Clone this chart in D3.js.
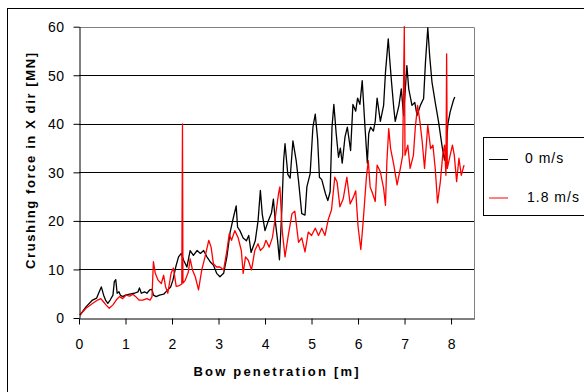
<!DOCTYPE html>
<html>
<head>
<meta charset="utf-8">
<script src="https://cdn.jsdelivr.net/npm/d3@7"></script>
<style>
  html, body { margin: 0; padding: 0; background: #fff; }
  svg { display: block; font-family: "Liberation Sans", Arial, sans-serif; }
</style>
</head>
<body>
<svg id="chart" width="584" height="392"></svg>
<script>
// Axis ticks
const xTicks = [0, 1, 2, 3, 4, 5, 6, 7, 8];
const yTicks = [0, 10, 20, 30, 40, 50, 60];

// Legend labels
const seriesNames = ["0 m/s", "1.8 m/s"];
const seriesColors = ["#000000", "#ff0000"];

// Crushing force [MN] vs bow penetration [m], ship speed 0 m/s
const speed0 = [
  [0.02,0.6],[0.15,2.3],[0.29,3.7],[0.38,4.1],[0.44,5.5],[0.48,6.4],[0.53,4.7],[0.57,3.7],[0.62,3.0],[0.67,3.7],
  [0.73,4.7],[0.76,7.5],[0.79,7.9],[0.82,5.1],[0.86,5.4],[0.89,4.7],[0.94,4.4],[1.0,4.7],[1.09,4.9],[1.19,5.1],
  [1.27,5.4],[1.3,6.2],[1.34,5.1],[1.41,5.4],[1.46,5.1],[1.52,5.8],[1.57,5.9],[1.6,4.7],[1.66,4.4],[1.73,4.7],
  [1.82,4.9],[1.91,5.8],[1.97,6.4],[2.02,7.8],[2.08,10.5],[2.14,12.6],[2.2,13.3],[2.25,11.9],[2.32,10.5],[2.39,13.9],
  [2.46,12.9],[2.54,13.9],[2.61,13.3],[2.68,13.9],[2.75,12.6],[2.82,11.6],[2.89,10.9],[2.96,9.2],[3.03,8.5],[3.11,9.2],
  [3.18,12.6],[3.25,17.7],[3.32,20.7],[3.38,23.1],[3.41,18.7],[3.46,18],[3.53,16.5],[3.6,15.9],[3.65,17],[3.7,13.5],
  [3.79,15.9],[3.85,20],[3.9,26.3],[3.94,21.4],[4.0,18],[4.07,20],[4.14,21.7],[4.18,24.5],[4.22,20],[4.27,16],
  [4.31,12],[4.36,22],[4.4,32.4],[4.43,35.9],[4.49,29.6],[4.54,28.8],[4.6,36.5],[4.67,32.4],[4.72,28.3],[4.79,21.5],
  [4.86,21.2],[4.9,27],[4.97,29.7],[5.03,39.3],[5.08,42],[5.13,37],[5.17,29],[5.22,28.5],[5.3,25.6],[5.35,24.2],
  [5.4,26],[5.44,39.3],[5.48,44],[5.53,38],[5.58,33.1],[5.62,35],[5.66,31.9],[5.72,37.3],[5.77,39.3],[5.84,34.5],
  [5.89,44],[5.95,42.6],[5.99,45.3],[6.04,44],[6.09,48.9],[6.15,39.3],[6.2,31.9],[6.23,38],[6.27,39.3],[6.33,38.5],
  [6.37,40.5],[6.41,45.3],[6.48,40.5],[6.55,43.8],[6.59,50.6],[6.65,57.5],[6.68,53.4],[6.72,48.6],[6.77,43.1],[6.8,40.5],
  [6.88,43.8],[6.93,47.2],[6.98,41.7],[7.05,52],[7.09,47.2],[7.16,43.8],[7.22,44.4],[7.27,41.7],[7.34,43.8],[7.41,45.2],
  [7.45,52.7],[7.5,59.8],[7.54,54],[7.59,48.6],[7.66,44.4],[7.73,40.5],[7.81,35.2],[7.86,32.5],[7.9,35.2],[7.93,39.9],
  [7.98,42.4],[8.05,44.8],[8.08,45.5]
];

// Crushing force [MN] vs bow penetration [m], ship speed 1.8 m/s
const speed18 = [
  [0.02,0.6],[0.15,2.0],[0.29,3.0],[0.4,3.7],[0.47,4.0],[0.52,3.4],[0.58,2.7],[0.65,2.0],[0.73,2.7],[0.8,3.7],
  [0.87,4.4],[0.94,4.0],[1.01,4.7],[1.09,4.5],[1.16,4.9],[1.22,4.4],[1.29,3.7],[1.37,3.7],[1.46,4.0],[1.53,3.7],
  [1.57,4.4],[1.6,11.6],[1.64,9.2],[1.7,7.8],[1.77,7.1],[1.82,8.8],[1.86,6.5],[1.91,5.1],[1.98,9.2],[2.03,10.3],
  [2.09,6.5],[2.14,6.6],[2.21,7.0],[2.225,40],[2.235,7.2],[2.28,7.7],[2.35,9.4],[2.39,12.2],[2.44,9.9],[2.5,8.5],
  [2.57,5.8],[2.64,9.9],[2.71,12.6],[2.79,16],[2.84,14.6],[2.89,11.2],[2.96,10.5],[3.03,10.5],[3.11,9.9],[3.18,13.9],
  [3.23,17.3],[3.28,16],[3.35,18],[3.42,16.6],[3.49,13.9],[3.53,9.2],[3.58,12.6],[3.64,11.9],[3.71,9.9],[3.78,13.9],
  [3.85,15.3],[3.9,13.9],[3.97,14.6],[4.02,16],[4.09,14.6],[4.16,16.6],[4.22,20.6],[4.29,25.6],[4.32,27],[4.37,18],
  [4.43,12.6],[4.5,17],[4.58,21.5],[4.64,22],[4.72,15.6],[4.79,16.5],[4.86,13.6],[4.93,17.7],[5.0,17],[5.08,18.5],
  [5.15,17],[5.22,18.5],[5.29,17],[5.36,20.3],[5.43,22.3],[5.5,29],[5.55,28],[5.61,22.9],[5.68,24.5],[5.76,29],
  [5.83,23.5],[5.9,24.9],[5.95,26.2],[6.0,18.9],[6.06,14.1],[6.11,19.8],[6.18,29],[6.22,32.4],[6.26,27],[6.3,26],
  [6.37,24],[6.41,31.5],[6.48,30.1],[6.55,26.7],[6.59,23.2],[6.62,32.2],[6.66,39],[6.7,34.9],[6.77,31.5],[6.84,27.4],
  [6.91,30.8],[6.96,33.5],[6.995,60],[7.01,33.5],[7.07,35.6],[7.12,30.8],[7.19,33.5],[7.23,39],[7.28,43.8],[7.33,40.5],
  [7.38,36.3],[7.43,30.8],[7.5,39.7],[7.56,34.9],[7.61,35.6],[7.66,30.8],[7.71,23.7],[7.77,28.1],[7.82,33.5],[7.86,35.6],
  [7.89,29.4],[7.905,54.4],[7.92,30.8],[7.98,33.5],[8.03,35.6],[8.07,33.5],[8.12,28.1],[8.17,32.9],[8.22,29.4],[8.28,31.5]
];

const svg = d3.select("#chart");
const plot = { left: 79, right: 474.3, top: 26.7, bottom: 318 };

const x = d3.scaleLinear().domain([0, 8.5]).range([plot.left, plot.right]);
const y = d3.scaleLinear().domain([0, 60]).range([plot.bottom, plot.top]);

// Outer frame
svg.append("rect")
  .attr("x", 7.5).attr("y", 8.5)
  .attr("width", 600).attr("height", 400)
  .attr("fill", "#fff").attr("stroke", "#000").attr("stroke-width", 1);

// Horizontal gridlines
svg.append("g")
  .selectAll("line")
  .data(yTicks.filter(d => d > 0))
  .join("line")
  .attr("x1", plot.left).attr("x2", plot.right)
  .attr("y1", d => Math.round(y(d)) + 0.5).attr("y2", d => Math.round(y(d)) + 0.5)
  .attr("stroke", d => d === 60 ? "#808080" : "#000")
  .attr("stroke-width", 1);

// Right frame of plot area
svg.append("line")
  .attr("x1", Math.round(plot.right) + 0.5).attr("x2", Math.round(plot.right) + 0.5)
  .attr("y1", Math.round(plot.top) + 0.5).attr("y2", Math.round(plot.bottom) + 0.5)
  .attr("stroke", "#808080");

// Series
const line = d3.line().x(d => x(d[0])).y(d => y(d[1]));
[speed0, speed18].forEach((s, i) => {
  svg.append("path")
    .datum(s)
    .attr("d", line)
    .attr("fill", "none")
    .attr("stroke", seriesColors[i])
    .attr("stroke-width", 1.3)
    .attr("stroke-linejoin", "round");
});

// Axes
const xAxis = svg.append("g")
  .attr("transform", `translate(0,${Math.round(plot.bottom) + 0.5})`)
  .call(d3.axisBottom(x).tickValues(xTicks).tickSize(6).tickSizeOuter(0));
xAxis.select(".domain").attr("stroke", "#000");
xAxis.selectAll(".tick line").attr("stroke", "#000");
xAxis.selectAll(".tick text")
  .attr("y", 30).attr("dy", null)
  .attr("font-size", 14).attr("fill", "#000")
  .attr("font-family", "Liberation Sans, Arial, sans-serif");

const yAxis = svg.append("g")
  .attr("transform", `translate(${plot.left + 0.5},0)`)
  .call(d3.axisLeft(y).tickValues(yTicks).tickSize(6).tickSizeOuter(0));
yAxis.select(".domain").attr("stroke", "#000");
yAxis.selectAll(".tick line").attr("stroke", "#000");
yAxis.selectAll(".tick text")
  .attr("x", -15).attr("dy", "0.35em")
  .attr("font-size", 14).attr("fill", "#000")
  .attr("letter-spacing", 0.5)
  .attr("font-family", "Liberation Sans, Arial, sans-serif");

// Axis titles
svg.append("text")
  .attr("x", 276).attr("y", 376)
  .attr("text-anchor", "middle")
  .attr("font-size", 13).attr("font-weight", "bold")
  .attr("textLength", 165).attr("lengthAdjust", "spacing")
  .text("Bow penetration [m]");

svg.append("text")
  .attr("transform", "translate(35,161) rotate(-90)")
  .attr("text-anchor", "middle")
  .attr("font-size", 13).attr("font-weight", "bold")
  .attr("textLength", 216).attr("lengthAdjust", "spacing")
  .text("Crushing force in X dir [MN]");

// Legend
const legend = svg.append("g");
legend.append("rect")
  .attr("x", 483.5).attr("y", 137.5)
  .attr("width", 130).attr("height", 78)
  .attr("fill", "#fff").attr("stroke", "#000");
const rows = [159.5, 198];
seriesNames.forEach((name, i) => {
  legend.append("line")
    .attr("x1", 489).attr("x2", 508)
    .attr("y1", rows[i]).attr("y2", rows[i])
    .attr("stroke", seriesColors[i]).attr("stroke-width", 1);
  legend.append("text")
    .attr("x", i === 0 ? 525 : 527).attr("y", rows[i] + 3 + i)
    .attr("font-size", 14).attr("letter-spacing", 1)
    .attr("fill", "#000")
    .text(name);
});
</script>
</body>
</html>
